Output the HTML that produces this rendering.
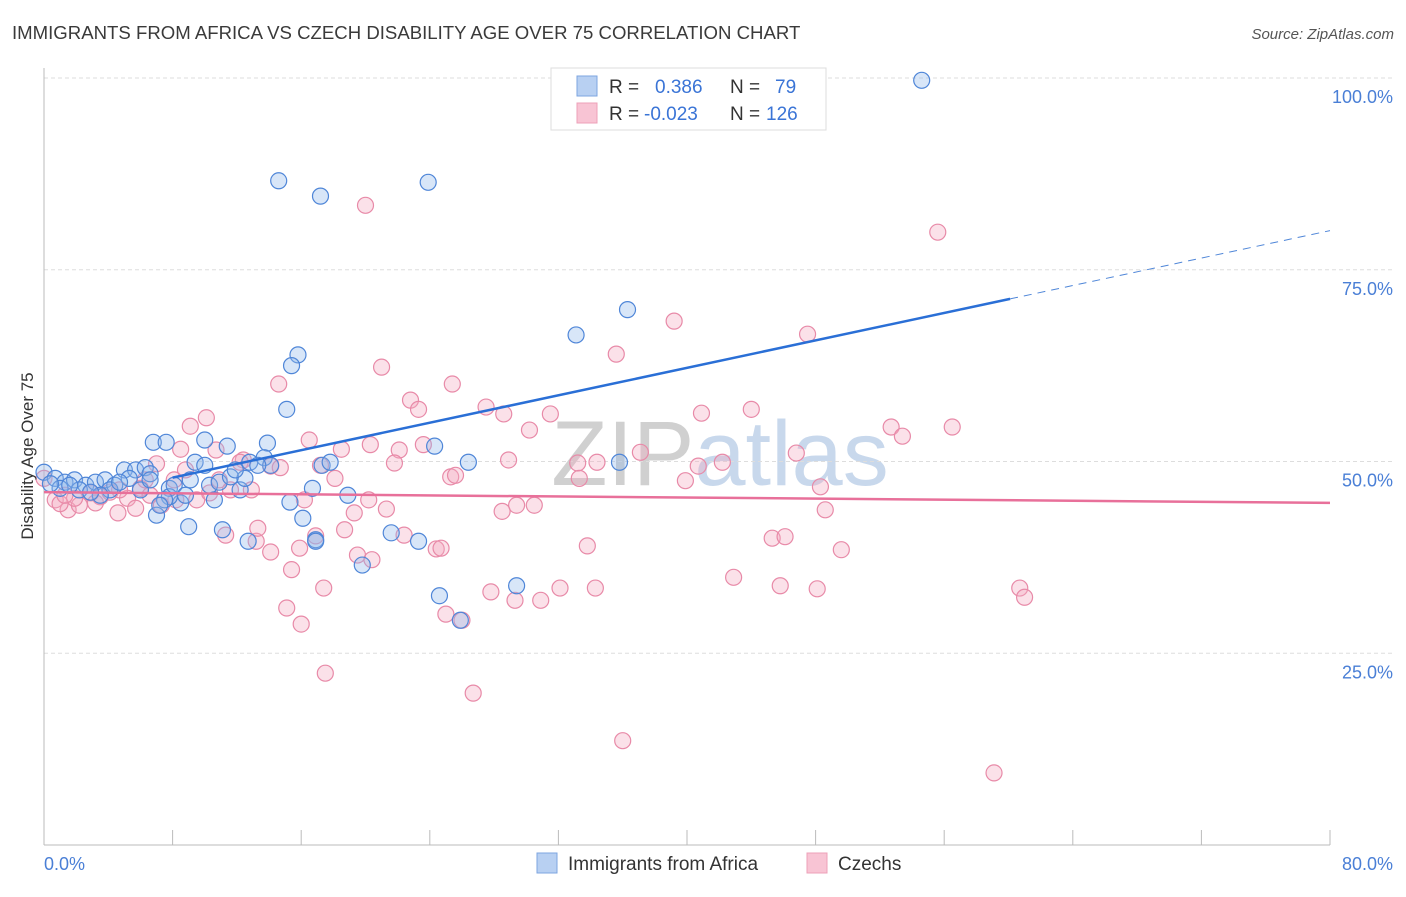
<!DOCTYPE html>
<html><head><meta charset="utf-8">
<style>
body{margin:0;background:#fff;font-family:"Liberation Sans",sans-serif;}
svg text{font-family:"Liberation Sans",sans-serif;}
</style></head>
<body>
<svg id="chart" width="1406" height="892" viewBox="0 0 1406 892" xmlns="http://www.w3.org/2000/svg">
<text x="12" y="39" font-size="18.6" fill="#3a3a3a">IMMIGRANTS FROM AFRICA VS CZECH DISABILITY AGE OVER 75 CORRELATION CHART</text>
<text x="1394" y="39" font-size="15" fill="#555" font-style="italic" text-anchor="end">Source: ZipAtlas.com</text>
<text x="720" y="485" font-size="92" fill="#d8d8d8" text-anchor="middle" font-family="Liberation Serif"><tspan fill="#d0d0d0">ZIP</tspan><tspan fill="#c8d8ec" font-family="Liberation Sans">atlas</tspan></text>
<g id="grid"></g>
<g id="axes"></g>
<g id="pts"></g>
<g id="lines"></g>
<text transform="translate(33,456) rotate(-90)" font-size="17" fill="#333" text-anchor="middle">Disability Age Over 75</text>
<text x="44" y="870" font-size="18" fill="#4a7fd6">0.0%</text>
<text x="1393" y="870" font-size="18" fill="#4a7fd6" text-anchor="end">80.0%</text>
<g>
<rect x="551" y="68" width="275" height="62" fill="#fff" stroke="#ddd"/>
<rect x="577" y="76" width="20" height="20" fill="#b8d0f2" stroke="#7ea6e0"/>
<rect x="577" y="103" width="20" height="20" fill="#f8c4d4" stroke="#eea0b8"/>
<text x="609" y="93" font-size="19" fill="#333">R = <tspan fill="#3a74d6" x="655">0.386</tspan><tspan fill="#333" x="730">N =</tspan><tspan fill="#3a74d6" x="775">79</tspan></text>
<text x="609" y="120" font-size="19" fill="#333">R = <tspan fill="#3a74d6" x="644">-0.023</tspan><tspan fill="#333" x="730">N =</tspan><tspan fill="#3a74d6" x="766">126</tspan></text>
</g>
<g>
<rect x="537" y="853" width="20" height="20" fill="#b8d0f2" stroke="#7ea6e0"/>
<text x="568" y="870" font-size="19" fill="#333">Immigrants from Africa</text>
<rect x="807" y="853" width="20" height="20" fill="#f8c4d4" stroke="#eea0b8"/>
<text x="838" y="870" font-size="19" fill="#333">Czechs</text>
</g>
</svg>
<script>
const yTicks=[25,50,75,100];
const yTickLabels=["25.0%","50.0%","75.0%","100.0%"];
const xTicks=[0,8,16,24,32,40,48,56,64,72,80];
const africaX=[54.6,14.6,17.2,23.9,36.3,33.1,15.8,15.4,15.1,6.8,7.6,10.0,11.4,13.9,24.3,26.4,35.8,12.8,13.7,14.1,17.3,17.8,0,0.7,1.3,1.9,2.6,3.2,3.8,4.4,5.0,5.7,6.3,6.6,7.8,8.5,9.0,9.4,10.3,10.9,11.6,12.2,12.5,10.6,11.1,12.7,15.3,16.1,16.7,16.9,18.9,19.8,21.6,23.3,24.6,25.9,29.4,7.0,7.8,4.1,3.5,1.0,0.4,2.2,5.3,6.0,10.0,11.9,13.3,16.9,9.1,7.5,8.1,4.7,2.9,1.6,6.6,7.2,8.8];
const africaY=[99.7,86.6,84.6,86.4,69.8,66.5,63.9,62.5,56.8,52.5,52.5,52.8,52.0,52.4,52.0,49.9,49.9,49.9,50.5,49.5,49.5,49.9,48.6,47.8,47.3,47.6,46.9,47.3,47.6,46.9,48.9,48.9,49.2,48.4,46.5,44.6,41.5,49.9,46.9,47.3,48.0,46.3,47.8,45.0,41.1,39.6,44.7,42.6,46.5,39.8,45.6,36.5,40.7,39.6,32.5,29.3,33.8,43.0,45.4,46.3,45.6,46.5,47.1,46.3,47.8,46.3,49.5,48.9,49.5,39.6,47.6,45.0,46.9,47.3,46.0,46.9,47.6,44.3,45.6];
const czechX=[20.0,55.6,39.2,47.5,35.6,21.0,14.6,25.4,22.8,23.3,27.5,28.6,31.5,40.9,44.0,52.7,56.5,53.4,10.1,9.1,30.2,23.6,22.1,18.5,10.7,8.5,7.0,12.4,14.1,14.7,18.1,21.8,25.3,28.9,33.2,34.4,37.1,33.3,39.9,40.7,42.2,46.8,48.3,48.6,49.6,45.3,46.1,42.9,45.8,48.1,60.7,61.0,59.1,36.0,26.7,17.5,16.0,15.1,15.4,17.4,18.7,19.5,20.4,21.3,22.4,24.4,24.7,25.0,26.0,27.8,29.3,30.9,32.1,34.3,29.4,30.5,28.5,33.8,13.2,14.1,13.3,15.9,16.9,19.3,20.2,0,0.7,1.5,2.2,2.9,3.5,4.1,4.6,5.2,6.0,6.6,7.3,8.1,8.8,9.5,10.3,10.9,11.6,12.2,12.9,11.3,8.2,4.7,3.2,1.9,1.0,1.3,5.7,6.3,20.3,17.2,16.5,16.2,25.6];
const czechY=[83.4,79.9,68.3,66.6,64.0,62.3,60.1,60.1,58.0,56.8,57.1,56.2,56.2,56.3,56.8,54.5,54.5,53.3,55.7,54.6,54.1,52.2,51.5,51.6,51.5,51.6,49.7,50.2,49.4,49.2,47.8,49.8,48.0,50.2,49.8,49.9,51.2,47.8,47.5,49.4,49.9,51.1,46.7,43.7,38.5,40.0,40.2,34.9,33.8,33.4,33.5,32.3,9.4,13.6,19.8,22.4,28.8,30.9,35.9,33.5,41.1,37.8,37.2,43.8,40.4,38.6,38.7,30.1,29.3,33.0,31.9,31.9,33.5,33.5,44.3,44.3,43.5,39.0,39.6,38.2,41.3,38.7,40.3,43.3,45.0,47.8,45.0,43.7,44.3,45.9,45.4,46.0,43.3,45.2,46.5,45.6,44.3,47.6,48.9,45.0,45.9,47.6,46.3,49.9,46.3,40.4,45.0,46.3,44.6,45.2,44.5,45.6,43.9,47.6,52.2,49.5,52.8,45.0,48.2];
const africaTrend=[[8,47.9],[60.1,71.2]];
const africaTrendDash=[[60.1,71.2],[80,80.1]];
const czechTrend=[[0,46.0],[80,44.6]];

const NS="http://www.w3.org/2000/svg";
const X=v=>44+v*16.075, Y=v=>845-v*7.67;
function mk(tag,attrs,parent){const e=document.createElementNS(NS,tag);for(const k in attrs)e.setAttribute(k,attrs[k]);parent.appendChild(e);return e;}
const grid=document.getElementById('grid'),axes=document.getElementById('axes'),pts=document.getElementById('pts'),lines=document.getElementById('lines');
yTicks.forEach((t,i)=>{
  const l=mk('line',{x1:44,x2:1393,y1:Y(t),y2:Y(t),stroke:'#ddd','stroke-dasharray':'4,3'},grid);
  
  
  const tx=mk('text',{x:1393,y:Y(t)+25,'font-size':18,fill:'#4a7fd6','text-anchor':'end'},axes);
  tx.textContent=yTickLabels[i];
  
  
});
const yl=mk('line',{x1:44,x2:44,y1:68,y2:845,stroke:'#bbb'},axes);


const xl=mk('line',{x1:44,x2:1330,y1:845,y2:845,stroke:'#bbb'},axes);


xTicks.forEach(t=>{
  const l=mk('line',{x1:X(t),x2:X(t),y1:830,y2:845,stroke:'#bbb'},axes);
  
  
});
function dots(xs,ys,fill,stroke,name){
  xs.forEach((x,i)=>{
    const c=mk('circle',{cx:X(x),cy:Y(ys[i]),r:8,fill:fill,'fill-opacity':0.35,stroke:stroke,'stroke-width':1.2},pts);
    
    
  });
}
dots(czechX,czechY,'#f4a8c0','#e88aa8','czech-point');
dots(africaX,africaY,'#8fb6ea','#4f86d8','africa-point');
function ln(p,color,dash,name){
  const l=mk('line',{x1:X(p[0][0]),y1:Y(p[0][1]),x2:X(p[1][0]),y2:Y(p[1][1]),stroke:color,'stroke-width':dash?1:2.5},lines);
  if(dash)l.setAttribute('stroke-dasharray','8,6');
  
  
}
ln(czechTrend,'#e8709a',false,'czech-trend-line');
ln(africaTrend,'#2a6fd6',false,'africa-trend-line');
ln(africaTrendDash,'#4f86d8',true,'africa-trend-extension');
</script>
</body></html>
